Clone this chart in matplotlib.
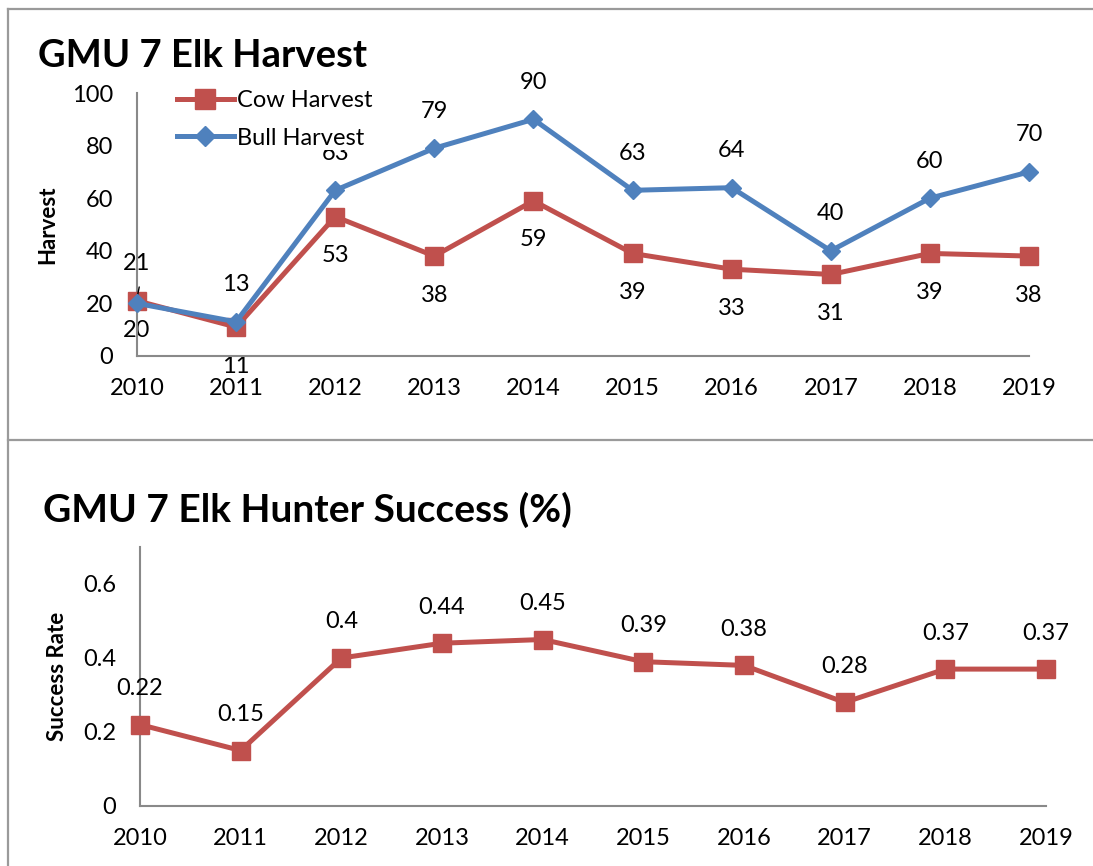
import matplotlib
matplotlib.use("Agg")
import matplotlib.pyplot as plt
from matplotlib.lines import Line2D

# data
years = ["2010", "2011", "2012", "2013", "2014", "2015", "2016", "2017", "2018", "2019"]
cow_harvest = [21, 11, 53, 38, 59, 39, 33, 31, 39, 38]
bull_harvest = [20, 13, 63, 79, 90, 63, 64, 40, 60, 70]
cow_labels = ["21", "11", "53", "38", "59", "39", "33", "31", "39", "38"]
bull_labels = ["20", "13", "63", "79", "90", "63", "64", "40", "60", "70"]
success_rate = [0.22, 0.15, 0.4, 0.44, 0.45, 0.39, 0.38, 0.28, 0.37, 0.37]
harvest_ticks = [0, 20, 40, 60, 80, 100]
success_ticks = [0, 0.2, 0.4, 0.6]

RED = "#C0504D"
BLUE = "#4F81BD"
GRID = "#898989"
W, H = 1093, 866

plt.rcParams["font.family"] = ["Lato", "DejaVu Sans"]
plt.rcParams["font.size"] = 17

fig = plt.figure(figsize=(W / 100, H / 100), dpi=100)


def box(x0, y0, x1, y1):
    # pixel box -> figure fraction rect
    return [x0 / W, 1 - y1 / H, (x1 - x0) / W, (y1 - y0) / H]


def fx(x):
    return x / W


def fy(y):
    return 1 - y / H


# chart borders
for xs, ys in [([8, 8], [9, 866]), ([8, 1093], [9, 9]), ([8, 1093], [440, 440])]:
    fig.add_artist(Line2D([fx(v) for v in xs], [fy(v) for v in ys],
                          color="#9a9a9a", lw=1.6))

x = list(range(len(years)))


def style_axes(ax):
    for s in ["top", "right"]:
        ax.spines[s].set_visible(False)
    for s in ["left", "bottom"]:
        ax.spines[s].set_color(GRID)
        ax.spines[s].set_linewidth(1.5)
    ax.tick_params(length=0, labelsize=17)
    ax.tick_params(axis="x", pad=16)
    ax.tick_params(axis="y", pad=17)
    ax.set_xlim(0, len(years) - 1)
    ax.set_xticks(x)
    ax.set_xticklabels(years)


# ---- top chart: harvest ----
ax1 = fig.add_axes(box(137, 93, 1029, 356))
style_axes(ax1)
ax1.set_ylim(0, 100)
ax1.set_yticks(harvest_ticks)
ax1.plot(x, cow_harvest, color=RED, lw=3.6, marker="s", ms=13,
         label="Cow Harvest", clip_on=False, zorder=3)
ax1.plot(x, bull_harvest, color=BLUE, lw=3.6, marker="D", ms=9.5,
         label="Bull Harvest", clip_on=False, zorder=4)

for i in x:
    # 2010 labels were swapped around in the original
    cow_off = 37 if i == 0 else -39
    bull_off = -27 if i == 0 else 37
    ax1.annotate(cow_labels[i], (i, cow_harvest[i]), xytext=(0, cow_off * 0.72),
                 textcoords="offset points", ha="center", va="center", zorder=2)
    ax1.annotate(bull_labels[i], (i, bull_harvest[i]), xytext=(0, bull_off * 0.72),
                 textcoords="offset points", ha="center", va="center", zorder=2)
# small leader line for the moved 2010 label
ax1.annotate("", (0, cow_harvest[0] + 1), xytext=(2, 10), textcoords="offset points",
             arrowprops=dict(arrowstyle="-", color="black", lw=1))

leg = ax1.legend(loc="upper left", bbox_to_anchor=(fx(164), fy(77)),
                 bbox_transform=fig.transFigure, frameon=True, fancybox=False,
                 handlelength=2.4, handletextpad=0.15, labelspacing=0.7,
                 borderpad=0.05, fontsize=17, markerscale=1.1)
leg.get_frame().set_edgecolor("none")
leg.get_frame().set_facecolor("white")
leg.get_frame().set_alpha(1)
leg.set_zorder(10)

fig.text(fx(48), fy(225), "Harvest", rotation=90, ha="center", va="center",
         fontweight="bold", fontsize=16)
fig.text(fx(38), fy(67), "GMU 7 Elk Harvest", ha="left", va="baseline",
         fontweight="bold", fontsize=27.5)

# ---- bottom chart: hunter success ----
ax2 = fig.add_axes(box(140, 547, 1046, 806))
style_axes(ax2)
ax2.set_ylim(0, 0.7)
ax2.set_yticks(success_ticks)
ax2.set_yticklabels(["0", "0.2", "0.4", "0.6"])
ax2.plot(x, success_rate, color=RED, lw=3.6, marker="s", ms=13,
         clip_on=False, zorder=3)
for i in x:
    ax2.annotate(f"{success_rate[i]:g}", (i, success_rate[i]), xytext=(0, 36 * 0.72),
                 textcoords="offset points", ha="center", va="center")

fig.text(fx(58), fy(676), "Success Rate", rotation=90, ha="center", va="center",
         fontweight="bold", fontsize=16)
fig.text(fx(43), fy(522), "GMU 7 Elk Hunter Success (%)", ha="left", va="baseline",
         fontweight="bold", fontsize=28)

fig.savefig("out.png", dpi=100)
